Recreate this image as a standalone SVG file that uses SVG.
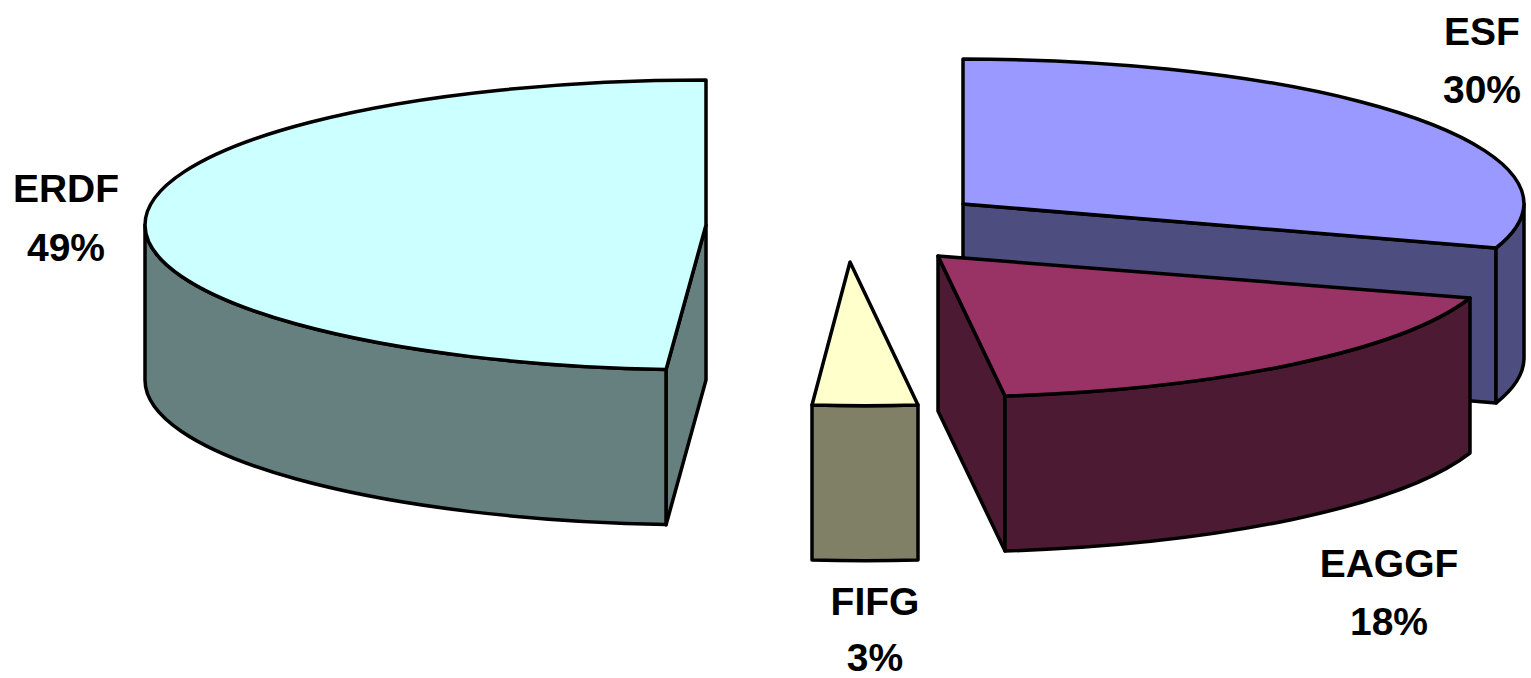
<svg xmlns="http://www.w3.org/2000/svg" width="1531" height="678" viewBox="0 0 1531 678">
<style>
.f{stroke:#000;stroke-width:3.5;stroke-linejoin:round}
.lbl{font-family:"Liberation Sans",Arial,sans-serif;font-weight:bold;font-size:39px;fill:#000;text-anchor:middle}
</style>
<rect width="1531" height="678" fill="#fff"/>
<g id="esf">
<path class="f" fill="#4D4D80" d="M963,204 L1496,248 L1496,403 L963,359 Z"/>
<path class="f" fill="#4D4D80" d="M1524,204 A561,145 0 0 1 1496,248 L1496,403 A561,145 0 0 0 1524,359 Z"/>
<path class="f" fill="#9999FF" d="M963,59 A561,145 0 0 1 1524,204 A561,145 0 0 1 1496,248 L963,204 Z"/>
<text class="lbl" x="1482" y="45">ESF</text>
<text class="lbl" x="1482" y="103">30%</text>
</g>
<g id="eaggf">
<path class="f" fill="#4D1A33" d="M938,256 L1005,396 L1005,551 L938,411 Z"/>
<path class="f" fill="#4D1A33" d="M1005,396 A561,145 0 0 0 1470,298 L1470,453 A561,145 0 0 1 1005,551 Z"/>
<path class="f" fill="#993366" d="M938,256 L1470,298 A561,145 0 0 1 1005,396 Z"/>
<text class="lbl" x="1389" y="577">EAGGF</text>
<text class="lbl" x="1389" y="635">18%</text>
</g>
<g id="fifg">
<path class="f" fill="#808066" d="M812,405 A561,145 0 0 0 918,405 L918,560 A561,145 0 0 1 812,560 Z"/>
<path class="f" fill="#FFFFCC" d="M850,262 L812,405 A561,145 0 0 0 918,405 Z"/>
<text class="lbl" x="875" y="615">FIFG</text>
<text class="lbl" x="875" y="671">3%</text>
</g>
<g id="erdf">
<path class="f" fill="#668080" d="M706,225 L666,370 L666,525 L706,380 Z"/>
<path class="f" fill="#668080" d="M145,225 A561,145 0 0 0 666,369.6 L666,524.6 A561,145 0 0 1 145,380 Z"/>
<path class="f" fill="#CCFFFF" d="M706,80 A561,145 0 0 0 145,225 A561,145 0 0 0 666,369.6 L706,225 Z"/>
<text class="lbl" x="66" y="202">ERDF</text>
<text class="lbl" x="66" y="261">49%</text>
</g>
<g id="connectors"/>
</svg>
